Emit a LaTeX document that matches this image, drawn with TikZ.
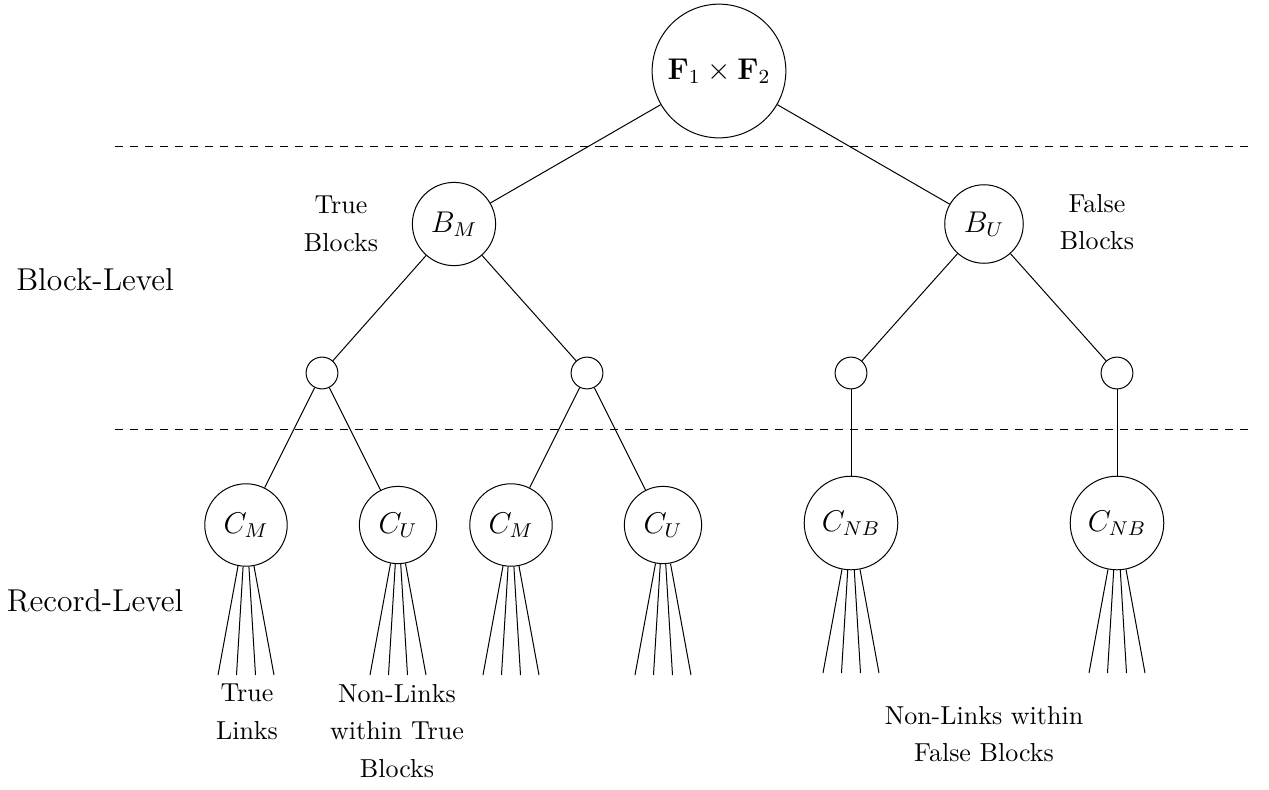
\documentclass[tikz,border=0pt]{standalone}
\usetikzlibrary{calc}
\begin{document}
\begin{tikzpicture}[x=0.4pt,y=-0.4pt,
    every node/.style={circle,draw,inner sep=4.5pt,font=\large},
    lab/.style={draw=none,rectangle,inner sep=0pt,align=center,font=\fontsize{10.4}{15}\selectfont},
    lvl/.style={draw=none,rectangle,inner sep=0pt,font=\fontsize{12.65}{15}\selectfont}]
  \useasboundingbox (0,0) rectangle (1269,789);
  \node (F) at (719,71) {$\mathbf{F}_1\times\mathbf{F}_2$};
  \node (BM) at (454,224) {$B_M$};
  \node (BU) at (984,224) {$B_U$};
  \node (m1) at (322,373) {};
  \node (m2) at (587,373) {};
  \node (u1) at (851,373) {};
  \node (u2) at (1117,373) {};
  \node (CM1) at (246,525) {$C_M$};
  \node (CU1) at (398,525) {$C_U$};
  \node (CM2) at (511,525) {$C_M$};
  \node (CU2) at (663,525) {$C_U$};
  \node (CNB1) at (851,523) {$C_{NB}$};
  \node (CNB2) at (1117,523) {$C_{NB}$};
  \draw (F) -- (BM);
  \draw (F) -- (BU);
  \draw (BM) -- (m1);
  \draw (BM) -- (m2);
  \draw (BU) -- (u1);
  \draw (BU) -- (u2);
  \draw (m1) -- (CM1);
  \draw (m1) -- (CU1);
  \draw (m2) -- (CM2);
  \draw (m2) -- (CU2);
  \draw (u1) -- (CNB1);
  \draw (u2) -- (CNB2);
  % record pairs under each class
  \foreach \n in {CM1,CU1,CM2,CU2,CNB1,CNB2}
    \foreach \a/\dx in {-101/-28,-94/-9.5,-86/9.5,-79/28}
      \draw (\n.\a) -- ($(\n.center)+(\dx,150)$);
  \draw[dashed] (115,146) -- (1250,146);
  \draw[dashed] (115,429) -- (1250,429);
  \node[lvl] (blk) at (95,280) {Block-Level};
  \node[lvl] (rec) at (95,601) {Record-Level};
  \node[lab] (tb) at (341,224) {True\\Blocks};
  \node[lab] (fb) at (1097,222) {False\\Blocks};
  \node[lab] (tl) at (247,712) {True\\Links};
  \node[lab] (nt) at (397,731) {Non-Links\\within True\\Blocks};
  \node[lab] (nf) at (984,734) {Non-Links within\\False Blocks};
\end{tikzpicture}
\end{document}
